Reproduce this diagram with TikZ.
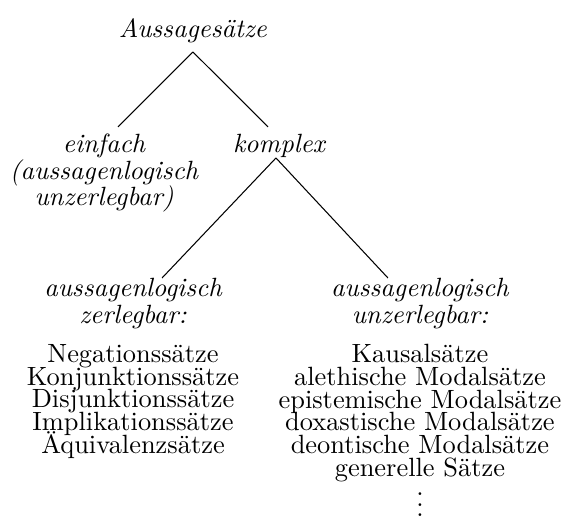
\documentclass[tikz,border=0pt]{standalone}
\tikzset{
    kind/.style={align=center,font={\itshape\fontsize{10}{10}\selectfont}},
    sorts/.style={align=center,font={\fontsize{10}{8.6}\selectfont\lineskiplimit=-100pt\relax}}
}
\begin{document}
\begin{tikzpicture}[every node/.style={inner sep=0pt,anchor=north}]
            \useasboundingbox (0,0) rectangle (7.522,-7.016);
            \node at (2.569,-.24)(root){\textit{Aussagesätze}};
            \node[kind] at (1.385,-1.78)(simple){einfach\\(aussagenlogisch\\unzerlegbar)};
            \node[kind] at (3.714,-1.78)(complex){komplex};
            \node[kind] at (1.771,-3.701)(split){aussagenlogisch\\zerlegbar:};
            \node[kind] at (5.591,-3.701)(nosplit){aussagenlogisch\\unzerlegbar:};
            \node[sorts] at (1.771,-4.58)(splitList){Negationssätze\\Konjunktionssätze\\Disjunktionssätze\\Implikationssätze\\Äquivalenzsätze};
            \node[sorts] at (5.591,-4.58)(nosplitList){Kausalsätze\\alethische Modalsätze\\epistemische Modalsätze\\doxastische Modalsätze\\deontische Modalsätze\\generelle Sätze};
            \node[yshift=.08cm] at (nosplitList.south)(more){$\vdots$};
            \coordinate (fork1) at (2.569,-.692);
            \coordinate (fork2) at (3.674,-2.103);
            \path[draw] (fork1) -- ([xshift=.186cm,yshift=.09cm]simple.north);
            \path[draw] (fork1) -- ([xshift=-.146cm,yshift=.09cm]complex.north);
            \path[draw] (fork2) -- ([xshift=.386cm]split.north);
            \path[draw] (fork2) -- ([xshift=-.426cm]nosplit.north);
            %\draw[dashed] (0,0) rectangle (7.522,-7.016);
        \end{tikzpicture}
\end{document}
